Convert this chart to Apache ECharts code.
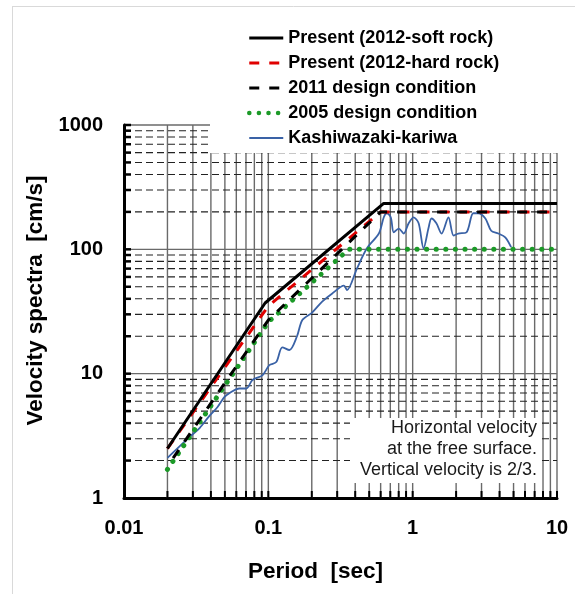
<!DOCTYPE html>
<html>
<head>
<meta charset="utf-8">
<script src="https://cdn.jsdelivr.net/npm/echarts@6/dist/echarts.min.js"></script>
<style>
  html, body { margin: 0; padding: 0; background: #fff; }
  #chart { width: 575px; height: 594px; }
</style>
</head>
<body>
<div id="chart"></div>
<script>
const xTicks = [0.01, 0.1, 1, 10]
const yTicks = [1, 10, 100, 1000]
const minorSteps = [2, 3, 4, 5, 6, 7, 8, 9]

const softT = [0.02, 0.095, 0.63, 10]
const softV = [2.5, 37, 234, 234]

const hardT = [0.02, 0.1, 0.6, 10]
const hardV = [2.5, 35, 200, 200]

const d2011T = [0.02, 0.1, 0.6, 10]
const d2011V = [1.8, 27, 200, 200]

const d2005T = [0.02, 0.1, 0.36, 10]
const d2005V = [1.7, 26, 100, 100]

const kkT = [0.02, 0.0285, 0.0334, 0.0392, 0.0445, 0.0497, 0.054, 0.063, 0.0705, 0.0776,
  0.091, 0.1016, 0.1135, 0.125, 0.14, 0.158, 0.172, 0.201, 0.236, 0.276,
  0.334, 0.351, 0.411, 0.482, 0.583, 0.631, 0.662, 0.705, 0.74, 0.80,
  0.867, 0.938, 1.016, 1.10, 1.19, 1.29, 1.35, 1.46, 1.585, 1.77,
  1.92, 2.07, 2.36, 2.63, 2.85, 3.19, 3.5, 3.92, 4.38, 4.81]
const kkV = [2.1, 3.1, 3.65, 4.6, 5.4, 6.5, 7.0, 7.6, 7.6, 8.9,
  9.7, 11.7, 12.4, 16.3, 15.5, 20, 27, 31, 38, 44,
  51, 47, 70, 102, 134, 181, 195, 181, 137, 147,
  134, 162, 181, 162, 102, 150, 177, 162, 134, 181,
  129, 134, 137, 195, 195, 177, 141, 134, 125, 104]

const pairs = (t, v) => t.map((x, i) => [x, v[i]])

// grid lines: [x, y, kind] 0 = vertical, 1 = horizontal minor, 2 = horizontal major
const gridData = []
xTicks.forEach((d, i) => {
  if (i > 0) gridData.push([d, 1, 0])
  if (i < xTicks.length - 1) minorSteps.forEach(s => gridData.push([d * s, 1, 0]))
})
yTicks.forEach((d, i) => {
  if (i > 0) gridData.push([0.01, d, 2])
  if (i < yTicks.length - 1) minorSteps.forEach(s => gridData.push([0.01, d * s, 1]))
})

const font = '"Liberation Sans", Arial, sans-serif'

const chart = echarts.init(document.getElementById('chart'))

chart.setOption({
  backgroundColor: '#fff',
  animation: false,
  textStyle: { fontFamily: font },
  grid: { left: 124, top: 125, width: 433, height: 373 },
  legend: {
    orient: 'vertical',
    left: 210,
    top: 21,
    padding: [8, 78, 6, 37],
    backgroundColor: '#fff',
    itemWidth: 34,
    itemHeight: 14,
    itemGap: 7,
    itemStyle: { opacity: 0 },
    textStyle: { fontSize: 18, fontWeight: 'bold', color: '#000', fontFamily: font },
    data: [
      { name: 'Present (2012-soft rock)', lineStyle: { width: 3 } },
      { name: 'Present (2012-hard rock)', lineStyle: { width: 3 } },
      { name: '2011 design condition', lineStyle: { width: 3, dashOffset: 0 } },
      { name: '2005 design condition', lineStyle: { width: 4.5 } },
      { name: 'Kashiwazaki-kariwa', lineStyle: { width: 2 } }
    ]
  },
  xAxis: {
    type: 'log',
    logBase: 10,
    min: 0.01,
    max: 10,
    name: 'Period  [sec]',
    nameLocation: 'middle',
    nameGap: 62,
    nameTextStyle: { fontSize: 22.5, fontWeight: 'bold', color: '#000', fontFamily: font, padding: [0, 50, 0, 0] },
    axisLine: { lineStyle: { color: '#000', width: 3 } },
    axisTick: { show: false },
    splitLine: { show: false },
    axisLabel: {
      margin: 20,
      fontSize: 20,
      fontWeight: 'bold',
      color: '#000',
      showMinLabel: true,
      showMaxLabel: true,
      formatter: v => String(v)
    }
  },
  yAxis: {
    type: 'log',
    logBase: 10,
    min: 1,
    max: 1000,
    name: 'Velocity spectra  [cm/s]',
    nameLocation: 'middle',
    nameGap: 71,
    nameTextStyle: { fontSize: 22.5, fontWeight: 'bold', color: '#000', fontFamily: font, padding: [0, 0, 0, 22] },
    axisLine: { show: true, lineStyle: { color: '#000', width: 3 } },
    axisTick: { show: false },
    splitLine: { show: false },
    axisLabel: {
      margin: 21,
      fontSize: 20,
      fontWeight: 'bold',
      color: '#000',
      formatter: v => String(v)
    }
  },
  graphic: [
    { type: 'line', shape: { x1: 12.5, y1: 6, x2: 12.5, y2: 594 }, style: { stroke: '#d9d9d9', lineWidth: 1 }, z: 0 },
    { type: 'line', shape: { x1: 12, y1: 6.5, x2: 575, y2: 6.5 }, style: { stroke: '#d9d9d9', lineWidth: 1 }, z: 0 },
    { type: 'rect', shape: { x: 350, y: 418, width: 190, height: 65 }, style: { fill: '#fff' }, z: 10 },
    {
      type: 'text', z: 11, x: 537, y: 428,
      style: { text: 'Horizontal velocity', align: 'right', verticalAlign: 'middle', fontSize: 18, fontFamily: font, fill: '#1a1a1a' }
    },
    {
      type: 'text', z: 11, x: 537, y: 449,
      style: { text: 'at the free surface.', align: 'right', verticalAlign: 'middle', fontSize: 18, fontFamily: font, fill: '#1a1a1a' }
    },
    {
      type: 'text', z: 11, x: 537, y: 470,
      style: { text: 'Vertical velocity is 2/3.', align: 'right', verticalAlign: 'middle', fontSize: 18, fontFamily: font, fill: '#1a1a1a' }
    }
  ],
  series: [
    {
      type: 'custom',
      name: 'grid',
      silent: true,
      z: 1,
      clip: false,
      encode: { x: 0, y: 1 },
      data: gridData,
      renderItem: (params, api) => {
        const cs = params.coordSys
        const kind = api.value(2)
        if (kind === 0) {
          const x = api.coord([api.value(0), 1])[0]
          const bottom = cs.y + cs.height
          return {
            type: 'group',
            children: [
              { type: 'line', shape: { x1: x, y1: cs.y, x2: x, y2: bottom }, style: { stroke: '#6a6a6a', lineWidth: 1.4 } },
              { type: 'line', shape: { x1: x, y1: bottom, x2: x, y2: bottom - 7 }, style: { stroke: '#000', lineWidth: 2 } }
            ]
          }
        }
        const y = api.coord([0.01, api.value(1)])[1]
        const major = kind === 2
        return {
          type: 'group',
          children: [
            {
              type: 'line',
              shape: { x1: cs.x, y1: y, x2: cs.x + cs.width, y2: y },
              style: major
                ? { stroke: '#6a6a6a', lineWidth: 1.4 }
                : { stroke: '#222', lineWidth: 1.1, lineDash: [7, 4] }
            },
            { type: 'line', shape: { x1: cs.x, y1: y, x2: cs.x + 7, y2: y }, style: { stroke: '#000', lineWidth: 2.5 } }
          ]
        }
      }
    },
    {
      name: 'Kashiwazaki-kariwa',
      type: 'line',
      symbol: 'none',
      smooth: 0.3,
      z: 3,
      data: pairs(kkT, kkV),
      lineStyle: { color: '#3a62a6', width: 1.8 },
      itemStyle: { color: '#3a62a6' }
    },
    {
      name: '2005 design condition',
      type: 'line',
      symbol: 'none',
      z: 4,
      data: pairs(d2005T, d2005V),
      lineStyle: { color: '#1c9a28', width: 5, type: [0.1, 9.5], cap: 'round' },
      itemStyle: { color: '#1c9a28' }
    },
    {
      name: 'Present (2012-hard rock)',
      type: 'line',
      symbol: 'none',
      z: 5,
      data: pairs(hardT, hardV),
      lineStyle: { color: '#e00000', width: 3, type: [10, 10] },
      itemStyle: { color: '#e00000' }
    },
    {
      name: '2011 design condition',
      type: 'line',
      symbol: 'none',
      z: 6,
      data: pairs(d2011T, d2011V),
      lineStyle: { color: '#000', width: 3, type: [10, 10], dashOffset: 10 },
      itemStyle: { color: '#000' }
    },
    {
      name: 'Present (2012-soft rock)',
      type: 'line',
      symbol: 'none',
      z: 7,
      data: pairs(softT, softV),
      lineStyle: { color: '#000', width: 3 },
      itemStyle: { color: '#000' }
    }
  ]
})
</script>
</body>
</html>
